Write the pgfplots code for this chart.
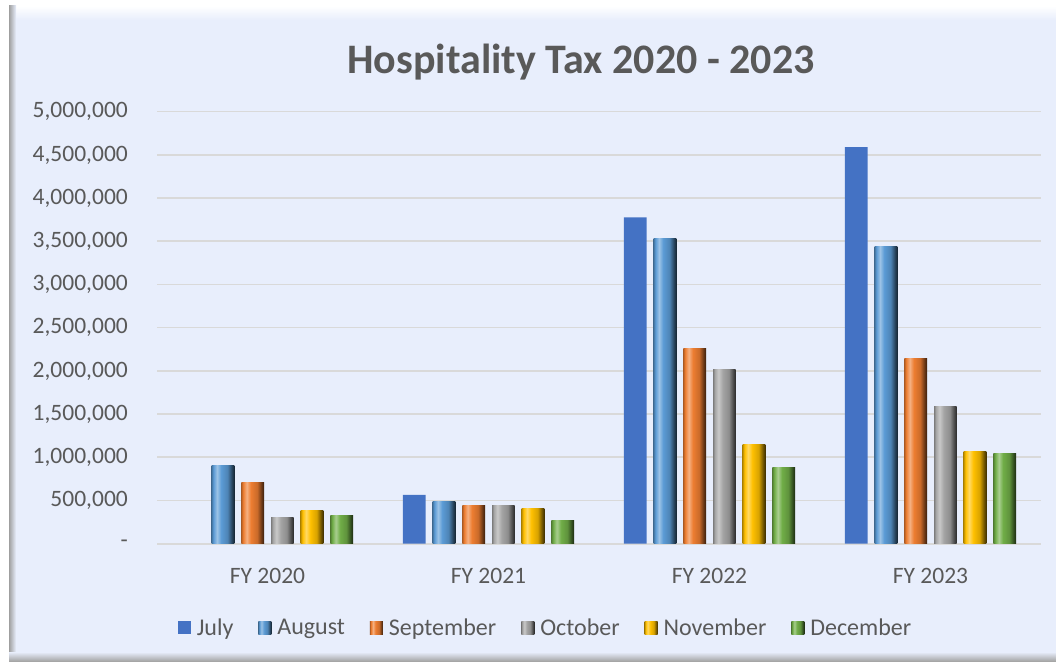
\documentclass[border=0pt]{standalone}
\usepackage{pgfplots}
\pgfplotsset{compat=1.18}
\usepackage{fontspec}
\setmainfont{Carlito}

\definecolor{panel}{HTML}{E8EEFC}
\definecolor{txt}{HTML}{595959}
\definecolor{grid}{HTML}{D9D9D9}
\definecolor{cJul}{HTML}{4472C4}
\definecolor{cAug}{HTML}{5B9BD5}
\definecolor{cSep}{HTML}{ED7D31}
\definecolor{cOct}{HTML}{A5A5A5}
\definecolor{cNov}{HTML}{FFC000}
\definecolor{cDec}{HTML}{70AD47}

% bevel look: dark left rim, light stripe, dark right edge
\colorlet{bevA}{gray}\colorlet{bevB}{gray}\colorlet{bevC}{gray}\colorlet{bevD}{gray}\colorlet{bevE}{gray}
\pgfdeclarehorizontalshading[bevA,bevB,bevC,bevD,bevE]{bevelsh}{100bp}{%
  color(0bp)=(bevD); color(25bp)=(bevD); color(29bp)=(bevA); color(37bp)=(bevB);
  color(46bp)=(bevA); color(60bp)=(bevE); color(70bp)=(bevC!70!bevE); color(75bp)=(bevC); color(100bp)=(bevC)}
\tikzset{bevel/.style={draw=none,
    /utils/exec={\colorlet{bevA}{#1}\colorlet{bevB}{#1!60!white}\colorlet{bevC}{#1!25!black}%
      \colorlet{bevD}{#1!75!black}\colorlet{bevE}{#1!85!black}},
    shading=bevelsh, shade}}

\begin{document}
\begin{tikzpicture}[x=1pt,y=1pt]
  \useasboundingbox (0,0) rectangle (1056,661);
  \fill[white] (0,0) rectangle (1056,661);
  % chart panel with bevelled edges
  \fill[panel] (9,0) rectangle (1056,655);
  \shade[top color=white, bottom color=panel] (9,641) rectangle (1056,655);
  \shade[left color=gray!75, right color=panel] (9,0) rectangle (16,655);
  \shade[bottom color=gray!70, top color=panel] (9,0) rectangle (1056,9);

  \node[text=txt, font=\fontsize{42}{48}\selectfont\bfseries] at (581,599) {Hospitality Tax 2020 - 2023};

  \begin{axis}[
    at={(157pt,117.3pt)}, anchor=south west,
    scale only axis,
    width=884pt, height=432pt,
    ybar, bar width=22.7pt,
    xmin=-0.5, xmax=3.5,
    ymin=0, ymax=5000000,
    xtick={0,1,2,3},
    xticklabels={FY 2020, FY 2021, FY 2022, FY 2023},
    ytick={0,500000,...,5000000},
    yticklabels={-, {500,000}, {1,000,000}, {1,500,000}, {2,000,000}, {2,500,000}, {3,000,000}, {3,500,000}, {4,000,000}, {4,500,000}, {5,000,000}},
    scaled y ticks=false,
    major tick length=0pt,
    axis line style={draw=none},
    ymajorgrids,
    major grid style={draw=grid, line width=1.6pt},
    tick label style={text=txt, font=\fontsize{23.5}{27}\selectfont},
    yticklabel style={anchor=east, inner sep=0pt, xshift=-29pt},
    xticklabel style={anchor=base, inner sep=0pt, yshift=-39.5pt},
    legend columns=6,
    legend style={at={(0.4395,-0.195)}, anchor=center, draw=none, fill=none,
      font=\fontsize{24}{28}\selectfont, text=txt,
      /tikz/every odd column/.append style={column sep=4pt},
      /tikz/every even column/.append style={column sep=23pt}},
    legend image code/.code={\path[#1] (0pt,-6.5pt) rectangle (13pt,6.5pt);},
  ]
  \addlegendimage{fill=cJul, draw=none}
  \addlegendimage{bevel=cAug}
  \addlegendimage{bevel=cSep}
  \addlegendimage{bevel=cOct}
  \addlegendimage{bevel=cNov}
  \addlegendimage{bevel=cDec}
  \legend{July, August, September, October, November, December}

  % one plot per bar, so each bar gets its own bevel shading
  % July (no FY 2020 value)
  \addplot[fill=cJul, draw=none, bar shift=-74.25pt, forget plot] coordinates {(1,564000) (2,3778000) (3,4589000)};
  % August
  \addplot[bevel=cAug, bar shift=-44.55pt, forget plot] coordinates {(0,903000)};
  \addplot[bevel=cAug, bar shift=-44.55pt, forget plot] coordinates {(1,483000)};
  \addplot[bevel=cAug, bar shift=-44.55pt, forget plot] coordinates {(2,3528000)};
  \addplot[bevel=cAug, bar shift=-44.55pt, forget plot] coordinates {(3,3439000)};
  % September
  \addplot[bevel=cSep, bar shift=-14.85pt, forget plot] coordinates {(0,706000)};
  \addplot[bevel=cSep, bar shift=-14.85pt, forget plot] coordinates {(1,444000)};
  \addplot[bevel=cSep, bar shift=-14.85pt, forget plot] coordinates {(2,2255000)};
  \addplot[bevel=cSep, bar shift=-14.85pt, forget plot] coordinates {(3,2139000)};
  % October
  \addplot[bevel=cOct, bar shift=14.85pt, forget plot] coordinates {(0,301000)};
  \addplot[bevel=cOct, bar shift=14.85pt, forget plot] coordinates {(1,440000)};
  \addplot[bevel=cOct, bar shift=14.85pt, forget plot] coordinates {(2,2012000)};
  \addplot[bevel=cOct, bar shift=14.85pt, forget plot] coordinates {(3,1592000)};
  % November
  \addplot[bevel=cNov, bar shift=44.55pt, forget plot] coordinates {(0,382000)};
  \addplot[bevel=cNov, bar shift=44.55pt, forget plot] coordinates {(1,405000)};
  \addplot[bevel=cNov, bar shift=44.55pt, forget plot] coordinates {(2,1150000)};
  \addplot[bevel=cNov, bar shift=44.55pt, forget plot] coordinates {(3,1062000)};
  % December
  \addplot[bevel=cDec, bar shift=74.25pt, forget plot] coordinates {(0,324000)};
  \addplot[bevel=cDec, bar shift=74.25pt, forget plot] coordinates {(1,271000)};
  \addplot[bevel=cDec, bar shift=74.25pt, forget plot] coordinates {(2,884000)};
  \addplot[bevel=cDec, bar shift=74.25pt, forget plot] coordinates {(3,1046000)};
  \end{axis}
\end{tikzpicture}
\end{document}
